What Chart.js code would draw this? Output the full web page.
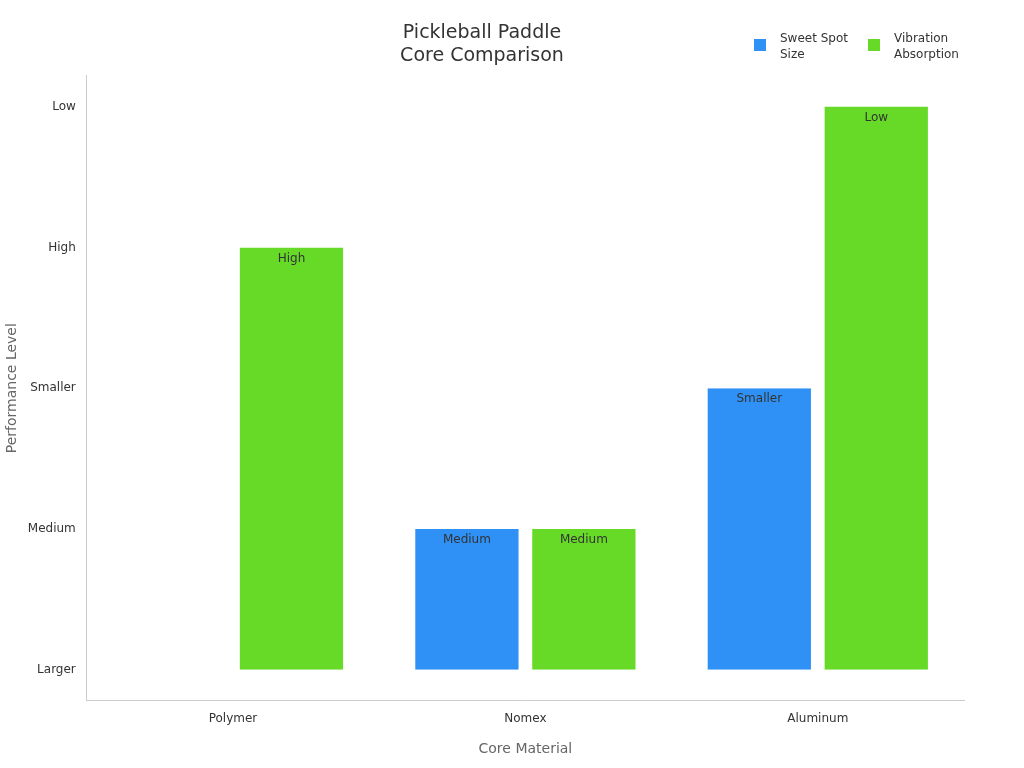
<!DOCTYPE html>
<html><head><meta charset="utf-8">
<script src="https://cdn.jsdelivr.net/npm/chart.js@4.4.0/dist/chart.umd.min.js"></script>
<style>
body{margin:0;background:#fff;font-family:"DejaVu Sans",sans-serif}
#wrap{position:relative;width:1024px;height:768px}
.leg{position:absolute;top:30px;font-size:12px;color:#333;line-height:16px}
.sw{position:absolute;left:-26px;top:9px;width:12px;height:12px}
</style></head><body>
<div id="wrap"><canvas id="c" width="1024" height="768"></canvas>
<div class="leg" style="left:780px"><span class="sw" style="background:#2f91f5"></span>Sweet Spot<br>Size</div>
<div class="leg" style="left:894px"><span class="sw" style="background:#67da28"></span>Vibration<br>Absorption</div>
</div>
<script>
const categories=["Polymer","Nomex","Aluminum"];
const levels=["Larger","Medium","Smaller","High","Low"];
const sweetSpot=[0,1,2];
const vibration=[3,1,4];
const seriesNames=["Sweet Spot Size","Vibration Absorption"];
const labelPlugin={id:"lbl",afterDatasetsDraw(ch){const ctx=ch.ctx;ctx.save();ctx.font="12px 'DejaVu Sans'";ctx.fillStyle="#333";ctx.textAlign="center";ctx.textBaseline="top";
ch.data.datasets.forEach((ds,i)=>{ch.getDatasetMeta(i).data.forEach((b,j)=>{if(ds.data[j]>0)ctx.fillText(levels[ds.data[j]],b.x,b.y+5);});});ctx.restore();}};
new Chart(document.getElementById("c"),{type:"bar",
data:{labels:categories,datasets:[
{label:seriesNames[0],data:sweetSpot,backgroundColor:"#2f91f5",borderColor:"#fff",borderWidth:{left:1,right:1}},
{label:seriesNames[1],data:vibration,backgroundColor:"#67da28",borderColor:"#fff",borderWidth:{left:1,right:1}}]},
options:{responsive:false,animation:false,layout:{padding:{left:0,right:60,top:0,bottom:6}},
plugins:{legend:{display:false},tooltip:{enabled:false},
title:{display:true,text:["Pickleball Paddle","Core Comparison"],color:"#333",font:{size:19,weight:"normal",family:"DejaVu Sans"},padding:{top:22,bottom:8}}},
scales:{x:{categoryPercentage:0.8,barPercentage:1,grid:{display:false},border:{color:"#ccc"},ticks:{color:"#333",font:{size:12,family:"DejaVu Sans"}},
title:{display:true,text:"Core Material",color:"#666",font:{size:14,family:"DejaVu Sans"},padding:{top:12}}},
y:{min:-0.22,max:4.22,afterBuildTicks(a){a.ticks=levels.map((_,i)=>({value:i}));},grid:{display:false,drawTicks:true},border:{color:"#ccc"},
ticks:{color:"#333",font:{size:12,family:"DejaVu Sans"},callback:v=>levels[v]},
title:{display:true,text:"Performance Level",color:"#666",font:{size:14,family:"DejaVu Sans"}}}}},
plugins:[labelPlugin]});
</script></body></html>
